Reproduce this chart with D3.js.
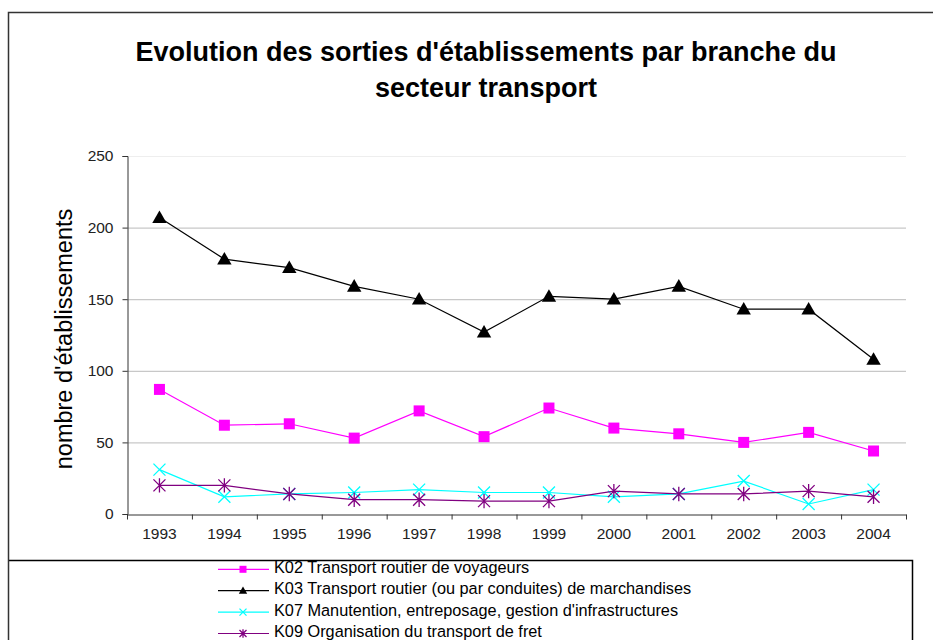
<!DOCTYPE html>
<html>
<head>
<meta charset="utf-8">
<script src="https://cdn.jsdelivr.net/npm/d3@7"></script>
<style>
  body { margin: 0; background: #fff; }
  text { font-family: Arial, "Liberation Sans", sans-serif; }
</style>
</head>
<body>
<div id="chart"></div>
<script>
// --- Données ---
const years = ["1993", "1994", "1995", "1996", "1997", "1998", "1999", "2000", "2001", "2002", "2003", "2004"];
const k02 = [87, 62, 63, 53, 72, 54, 74, 60, 56, 50, 57, 44];
const k03 = [207, 178, 172, 159, 150, 127, 152, 150, 159, 143, 143, 108];
const k07 = [31, 12, 14, 15, 17, 15, 15, 12, 14, 23, 7, 17];
const k09 = [20, 20, 14, 10, 10, 9, 9, 16, 14, 14, 16, 12];
const seriesNames = [
  "K02 Transport routier de voyageurs",
  "K03 Transport routier (ou par conduites) de marchandises",
  "K07 Manutention, entreposage, gestion d'infrastructures",
  "K09 Organisation du transport de fret"
];
const yTicks = [0, 50, 100, 150, 200, 250];

const width = 933;
const height = 640;

const series = [
  { name: seriesNames[0], values: k02, color: "#ff00ff", marker: "square" },
  { name: seriesNames[1], values: k03, color: "#000000", marker: "triangle" },
  { name: seriesNames[2], values: k07, color: "#00ffff", marker: "x" },
  { name: seriesNames[3], values: k09, color: "#800080", marker: "star" }
];

const svg = d3.select("#chart").append("svg")
  .attr("width", width)
  .attr("height", height);

// --- Titre ---
const title = svg.append("text")
  .attr("text-anchor", "middle")
  .attr("font-weight", "bold")
  .attr("font-size", 27)
  .attr("fill", "#000");
title.append("tspan").attr("x", 486).attr("y", 61).text("Evolution des sorties d'établissements par branche du");
title.append("tspan").attr("x", 486).attr("y", 97).text("secteur transport");

// --- Échelles ---
const x = d3.scaleBand().domain(years).range([127, 906]);
const y = d3.scaleLinear().domain([0, 250]).range([514, 156]);

// --- Grille ---
svg.append("g")
  .selectAll("line")
  .data(yTicks.filter(d => d > 0))
  .join("line")
  .attr("x1", 127).attr("x2", 906)
  .attr("y1", d => y(d) + 0.5).attr("y2", d => y(d) + 0.5)
  .attr("stroke", d => d === 250 ? "#eeeeee" : "#c8c8c8")
  .attr("stroke-width", 1.2);

// --- Axes ---
const yAxis = svg.append("g")
  .attr("transform", "translate(127.5,0)")
  .call(d3.axisLeft(y).tickValues(yTicks).tickSize(5).tickPadding(9));
yAxis.select(".domain").attr("stroke", "#333");
yAxis.selectAll(".tick line").attr("stroke", "#333");
yAxis.selectAll("text")
  .attr("font-size", 15.5)
  .attr("font-family", "Arial, 'Liberation Sans', sans-serif")
  .attr("fill", "#222");

const xAxis = svg.append("g")
  .attr("transform", "translate(0,514.5)")
  .call(d3.axisBottom(x).tickSize(0).tickPadding(13));
xAxis.select(".domain").attr("stroke", "#333");
xAxis.selectAll("text")
  .attr("font-size", 15.5)
  .attr("font-family", "Arial, 'Liberation Sans', sans-serif")
  .attr("fill", "#222");
// graduations entre les catégories
xAxis.append("g")
  .selectAll("line")
  .data(years.concat(["end"]))
  .join("line")
  .attr("x1", (d, i) => 127.5 + i * x.step())
  .attr("x2", (d, i) => 127.5 + i * x.step())
  .attr("y1", 0).attr("y2", 5)
  .attr("stroke", "#333");

// --- Titre de l'axe Y ---
svg.append("text")
  .attr("transform", "translate(72,339) rotate(-90)")
  .attr("text-anchor", "middle")
  .attr("font-size", 23.5)
  .attr("fill", "#000")
  .text("nombre d'établissements");

// --- Marqueurs ---
function drawMarker(g, type, color, size) {
  const s = size;
  if (type === "square") {
    g.append("rect").attr("x", -s / 2).attr("y", -s / 2).attr("width", s).attr("height", s).attr("fill", color);
  } else if (type === "triangle") {
    g.append("path").attr("d", `M0,${-s * 0.6} L${s * 0.6},${s * 0.45} L${-s * 0.6},${s * 0.45} Z`).attr("fill", color);
  } else if (type === "x") {
    g.append("path").attr("d", `M${-s / 2},${-s / 2} L${s / 2},${s / 2} M${-s / 2},${s / 2} L${s / 2},${-s / 2}`)
      .attr("stroke", color).attr("stroke-width", 1.3);
  } else if (type === "star") {
    g.append("path").attr("d", `M${-s / 2},${-s / 2} L${s / 2},${s / 2} M${-s / 2},${s / 2} L${s / 2},${-s / 2} M0,${-s * 0.6} L0,${s * 0.6}`)
      .attr("stroke", color).attr("stroke-width", 1.3);
  }
}

const line = d3.line()
  .x((d, i) => x(years[i]) + x.bandwidth() / 2)
  .y(d => y(d));

const plot = svg.append("g");
// ordre de dessin : le fret en dernier
[2, 3, 0, 1].forEach(k => {
  const s = series[k];
  plot.append("path")
    .attr("d", line(s.values))
    .attr("fill", "none")
    .attr("stroke", s.color)
    .attr("stroke-width", 1.2);
  s.values.forEach((v, i) => {
    const g = plot.append("g")
      .attr("transform", `translate(${x(years[i]) + x.bandwidth() / 2},${y(v)})`);
    drawMarker(g, s.marker, s.color, s.marker === "square" ? 11 : 12);
  });
});

// --- Légende ---
const legend = svg.append("g");

const legendItems = legend.selectAll("g.item")
  .data(series)
  .join("g")
  .attr("class", "item")
  .attr("transform", (d, i) => `translate(0,${569.3 + i * 21.4})`);

legendItems.append("line")
  .attr("x1", 218).attr("x2", 269)
  .attr("y1", 0).attr("y2", 0)
  .attr("stroke", d => d.color)
  .attr("stroke-width", 1.2);

legendItems.each(function (d) {
  const g = d3.select(this).append("g").attr("transform", "translate(243,0)");
  drawMarker(g, d.marker, d.color, 7);
});

legendItems.append("text")
  .attr("x", 274)
  .attr("y", 3.5)
  .attr("font-size", 16.3)
  .attr("fill", "#000")
  .text(d => d.name);

// cadre de la légende (par-dessus le texte, comme dans l'original)
legend.append("rect")
  .attr("x", 12).attr("y", 549)
  .attr("width", width).attr("height", 11.5)
  .attr("fill", "#fff");
legend.append("path")
  .attr("d", `M8,560.5 H912.5 V${height}`)
  .attr("fill", "none")
  .attr("stroke", "#000")
  .attr("stroke-width", 1.5);

// --- Cadre extérieur ---
svg.append("path")
  .attr("d", `M8.5,${height} V12.5 H${width}`)
  .attr("fill", "none")
  .attr("stroke", "#333")
  .attr("stroke-width", 1.5);
</script>
</body>
</html>
